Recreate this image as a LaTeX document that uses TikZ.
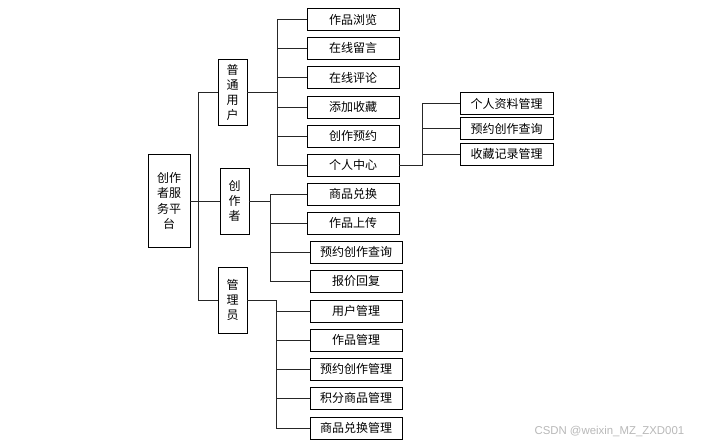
\documentclass[tikz,border=0pt]{standalone}
\usepackage{fontspec}
\setmainfont{Noto Sans CJK SC}
\newfontfamily\markfont{Liberation Sans}
\tikzset{
    tnode/.style = {align=center, inner sep=0pt, text centered, font=\fontsize{12}{15.5}\selectfont},
    leaf/.style = {tnode, rectangle, draw=black, line width=0.9pt, minimum width=92pt, minimum height=22pt},
    wideleaf/.style = {leaf, minimum width=93pt},
    role/.style = {tnode, rectangle, draw=black, line width=0.9pt, minimum width=29pt, minimum height=66pt, font=\fontsize{12}{15}\selectfont},
    rootbox/.style = {tnode, rectangle, draw=black, line width=0.9pt, minimum width=42pt, minimum height=93pt},
    link/.style = {draw=black!85, line width=0.9pt}
}
\begin{document}
\begin{tikzpicture}[x=1pt, y=-1pt]
    \useasboundingbox (0,0) rectangle (705,444);

    % root and roles
    \node [rootbox] (root) at (169,201) {创作\\者服\\务平\\台};
    \node [role] (user) at (232.5,92) {普\\通\\用\\户};
    \node [role] (creator) at (234.5,201) {创\\作\\者};
    \node [role] (admin) at (232.5,300) {管\\理\\员};

    % ordinary user
    \node [leaf] (view) at (353,19.5) {作品浏览};
    \node [leaf] (msg) at (353,48) {在线留言};
    \node [leaf] (comment) at (353,77.5) {在线评论};
    \node [leaf] (fav) at (353,107) {添加收藏};
    \node [leaf] (book) at (353,136) {创作预约};
    \node [leaf] (center) at (353,165) {个人中心};

    % personal center
    \node [wideleaf] (profile) at (506.5,103.5) {个人资料管理};
    \node [wideleaf] (bquery) at (506.5,128.5) {预约创作查询};
    \node [wideleaf] (favrec) at (506.5,154) {收藏记录管理};

    % creator
    \node [leaf] (exch) at (353,194) {商品兑换};
    \node [leaf] (upload) at (353,223) {作品上传};
    \node [leaf] (query) at (356,252) {预约创作查询};
    \node [leaf] (quote) at (356,281) {报价回复};

    % admin
    \node [leaf] (umgr) at (356,311) {用户管理};
    \node [leaf] (wmgr) at (356,340) {作品管理};
    \node [leaf] (bmgr) at (356,369) {预约创作管理};
    \node [leaf] (pmgr) at (356,398) {积分商品管理};
    \node [leaf] (emgr) at (356,428) {商品兑换管理};

    \node [font=\markfont\fontsize{11.4}{13}\selectfont, text=black!28, anchor=west] (mark) at (531,431) {CSDN @weixin\_MZ\_ZXD001};

    % buses
    \coordinate (rb) at (198,0);
    \coordinate (ub) at (277,0);
    \coordinate (cb) at (270,0);
    \coordinate (ab) at (276,0);
    \coordinate (pb) at (422,0);

    \draw [link] (root.east) -- (creator.west);
    \draw [link] (user.west) -- (user.west -| rb) -- (admin.west -| rb) -- (admin.west);

    \draw [link] (user.east) -- (user.east -| ub);
    \draw [link] (ub |- view.west) -- (ub |- center.west);
    \foreach \n in {view, msg, comment, fav, book, center}
        \draw [link] (ub |- \n.west) -- (\n.west);

    \draw [link] (center.east) -- (center.east -| pb) -- (pb |- profile.west);
    \foreach \n in {profile, bquery, favrec}
        \draw [link] (pb |- \n.west) -- (\n.west);

    \draw [link] (creator.east) -- (creator.east -| cb);
    \draw [link] (cb |- exch.west) -- (cb |- quote.west);
    \foreach \n in {exch, upload, query, quote}
        \draw [link] (cb |- \n.west) -- (\n.west);

    \draw [link] (admin.east) -- (admin.east -| ab) -- (ab |- emgr.west);
    \foreach \n in {umgr, wmgr, bmgr, pmgr, emgr}
        \draw [link] (ab |- \n.west) -- (\n.west);
\end{tikzpicture}
\end{document}
